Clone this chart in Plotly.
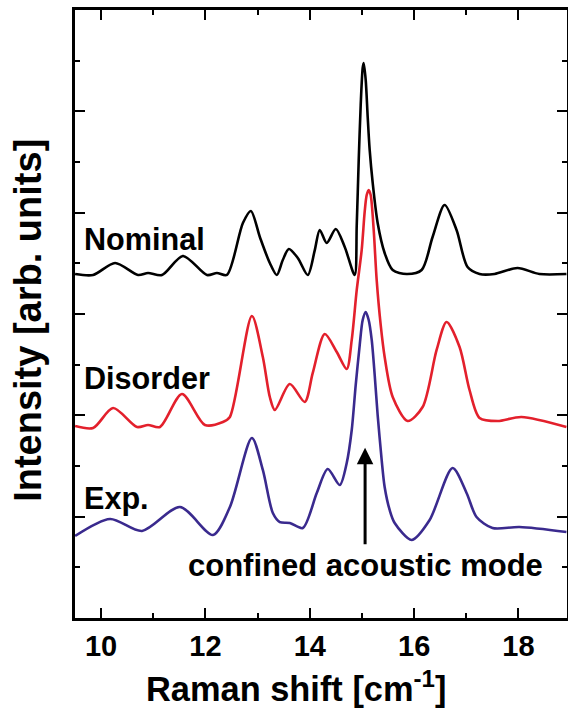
import plotly.graph_objects as go

# ---- data ----
nominal_x = [9.502, 9.847, 10.268, 10.708, 10.900, 11.167, 11.569, 12.029, 12.220, 12.411,
             12.718, 12.871, 13.043, 13.234, 13.368, 13.483, 13.598, 13.770, 13.962, 14.096,
             14.191, 14.325, 14.498, 14.670, 14.861, 14.900, 14.938, 14.976, 15.014, 15.033,
             15.072, 15.110, 15.148, 15.206, 15.301, 15.435, 15.589, 15.856, 16.144, 16.354,
             16.584, 16.813, 17.024, 17.254, 17.541, 17.981, 18.402, 18.919]
nominal_y = [3.395, 3.385, 3.503, 3.385, 3.405, 3.385, 3.573, 3.385, 3.405, 3.385,
             3.898, 4.017, 3.760, 3.503, 3.385, 3.533, 3.641, 3.553, 3.385, 3.631,
             3.829, 3.701, 3.839, 3.661, 3.385, 3.878, 4.520, 5.063, 5.428, 5.477,
             5.309, 4.944, 4.619, 4.293, 3.898, 3.602, 3.434, 3.395, 3.434, 3.760,
             4.076, 3.829, 3.464, 3.395, 3.395, 3.454, 3.395, 3.395]

disorder_x = [9.502, 9.847, 10.230, 10.689, 10.900, 11.129, 11.550, 11.990, 12.335, 12.469,
              12.890, 13.100, 13.234, 13.330, 13.617, 13.904, 14.057, 14.287, 14.517, 14.708,
              14.804, 14.900, 14.995, 15.052, 15.091, 15.129, 15.167, 15.225, 15.282, 15.359,
              15.435, 15.589, 15.876, 16.163, 16.431, 16.622, 16.871, 17.062, 17.254,
              17.600, 18.057, 18.919]
disorder_y = [1.895, 1.875, 2.072, 1.885, 1.905, 1.885, 2.211, 1.905, 1.934, 1.984,
              2.980, 2.576, 2.181, 2.053, 2.309, 2.132, 2.418, 2.803, 2.625, 2.457,
              2.744, 3.237, 3.632, 4.007, 4.174, 4.224, 4.174, 3.829, 3.336, 2.892,
              2.576, 2.181, 1.944, 2.082, 2.645, 2.921, 2.674, 2.250, 1.974,
              1.944, 1.984, 1.885]

exp_x = [9.502, 10.172, 10.785, 11.512, 12.144, 12.469, 12.890, 13.100, 13.292, 13.426,
         13.617, 13.866, 14.134, 14.344, 14.574, 14.708, 14.804, 14.880, 14.957, 15.014,
         15.072, 15.129, 15.187, 15.244, 15.301, 15.378, 15.435, 15.531, 15.627, 15.952,
         16.297, 16.737, 17.005, 17.196, 17.502, 18.019, 18.919]
exp_y = [0.809, 0.977, 0.859, 1.095, 0.819, 1.095, 1.776, 1.461, 1.036, 0.947,
         0.938, 0.888, 1.234, 1.470, 1.313, 1.530, 1.855, 2.299, 2.694, 2.941,
         3.020, 2.941, 2.744, 2.398, 2.003, 1.559, 1.293, 1.066, 0.938, 0.770,
         0.967, 1.480, 1.234, 0.997, 0.888, 0.898, 0.849]

series_names = ["Nominal", "Disorder", "Exp."]
series_colors = ["#000000", "#E3202C", "#3A2A8E"]
label_y = [3.74, 2.37, 1.18]
x_tick_vals = [10, 12, 14, 16, 18]
x_tick_text = ["10", "12", "14", "16", "18"]
x_title = "Raman shift [cm<sup>-1</sup>]"
y_title = "Intensity [arb. units]"

FONT = "Liberation Sans, Arial, Helvetica, sans-serif"

fig = go.Figure()
for xs, ys, name, col in zip([nominal_x, disorder_x, exp_x], [nominal_y, disorder_y, exp_y],
                             series_names, series_colors):
    fig.add_trace(go.Scatter(x=xs, y=ys, mode="lines", name=name,
                             line=dict(color=col, width=2.6, shape="spline", smoothing=0.8),
                             showlegend=False, hoverinfo="skip"))

for name, yy in zip(series_names, label_y):
    fig.add_annotation(x=9.636, y=yy, text=name, showarrow=False, xanchor="left", yanchor="middle",
                       font=dict(family=FONT, size=30.6, color="black", weight="bold"))

# label with arrow pointing at the confined acoustic mode
fig.add_annotation(x=15.06, y=1.68, ax=15.06, ay=0.52, xref="x", yref="y", axref="x", ayref="y",
                   text="confined acoustic mode", showarrow=True, arrowhead=2, arrowsize=1.1,
                   arrowwidth=3, arrowcolor="black", standoff=0, borderpad=3,
                   font=dict(family=FONT, size=31, color="black", weight="bold"))

# axis titles (placed as in the reference)
fig.add_annotation(x=0.449, y=-0.1125, xref="paper", yref="paper", text=x_title, showarrow=False,
                   xanchor="center", yanchor="middle", borderpad=0,
                   font=dict(family=FONT, size=34.4, color="black", weight="bold"))
fig.add_annotation(x=-0.096, y=0.49, xref="paper", yref="paper", text=y_title, showarrow=False,
                   textangle=-90, xanchor="center", yanchor="middle",
                   font=dict(family=FONT, size=38, color="black", weight="bold"))

fig.update_xaxes(range=[9.5, 18.93], tickvals=x_tick_vals, ticktext=x_tick_text,
                 ticks="inside", ticklen=10, tickwidth=2, tickcolor="black",
                 minor=dict(dtick=1, tick0=9, ticks="inside", ticklen=5, tickwidth=2, tickcolor="black"),
                 showline=True, linewidth=2.5, linecolor="black", mirror="ticks",
                 showgrid=False, zeroline=False, automargin=False,
                 tickfont=dict(family=FONT, size=29, color="black", weight="bold"))
fig.update_yaxes(range=[0, 6], dtick=1, tick0=0, showticklabels=False,
                 ticks="inside", ticklen=10, tickwidth=2, tickcolor="black",
                 minor=dict(dtick=1, tick0=0.5, ticks="inside", ticklen=5, tickwidth=2, tickcolor="black"),
                 showline=True, linewidth=2.5, linecolor="black", mirror="ticks",
                 showgrid=False, zeroline=False, automargin=False)

fig.update_layout(width=568, height=713, margin=dict(l=75, r=1, t=10, b=95, autoexpand=False),
                  plot_bgcolor="white", paper_bgcolor="white")

fig.write_html("out.html", config={"displayModeBar": False},
               post_script="document.body.style.margin='0';")
